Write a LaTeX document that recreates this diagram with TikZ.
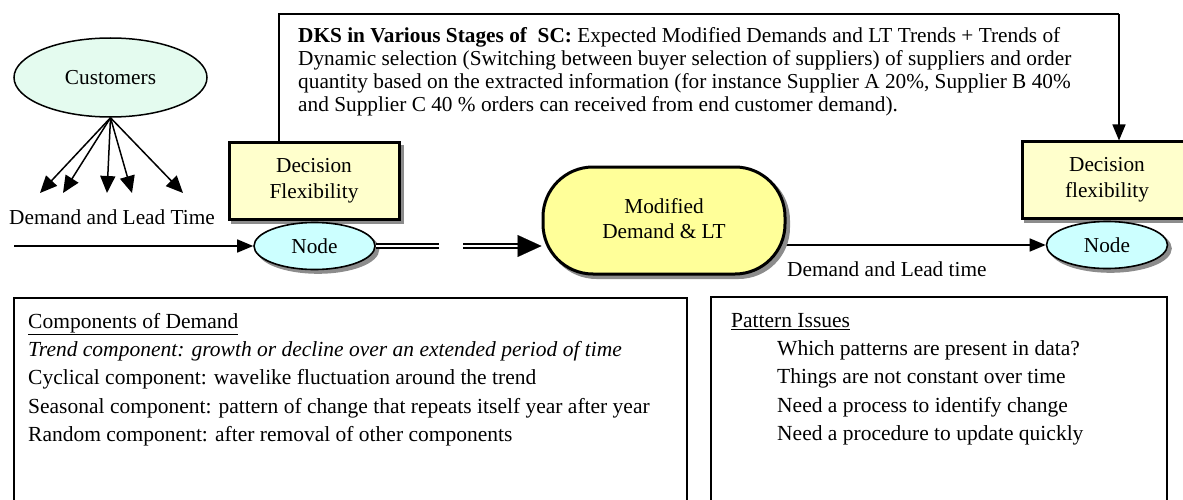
\documentclass[tikz,border=0pt]{standalone}
\usepackage{fontspec}
\setmainfont{Liberation Serif}
\usetikzlibrary{arrows.meta,shapes.geometric,calc}
\pgfdeclarelayer{bg}
\pgfsetlayers{bg,main}
\definecolor{custfill}{HTML}{E4FBEF}
\definecolor{nodefill}{HTML}{CCFFFF}
\definecolor{decfill}{HTML}{FFFFCC}
\definecolor{modfill}{HTML}{FFFF99}
\tikzset{
  txt/.style={font=\fontsize{21.3}{23}\selectfont, inner sep=0pt},
  shade3/.style={preaction={fill=black!45, draw=black!45, transform canvas={xshift=3.5pt,yshift=-3.5pt}}},
  nodeell/.style={ellipse, draw, line width=1.6pt, fill=nodefill, minimum width=121pt,
    minimum height=47pt, inner sep=0pt, font=\fontsize{21.3}{23}\selectfont, shade3},
  decbox/.style={rectangle, draw, line width=3pt, fill=decfill, minimum width=170pt,
    minimum height=76pt, align=center, font=\fontsize{21.3}{26}\selectfont, shade3},
  conn/.style={line width=1.5pt, -{Triangle[length=16pt,width=13pt]}},
  fan/.style={line width=1.5pt, -{Triangle[length=17pt,width=15pt]}},
  dbl/.style={double, line width=1.4pt, double distance=2.8pt},
  infobox/.style={draw, line width=1.7pt},
}
\begin{document}
\begin{tikzpicture}[x=1pt,y=-1pt]
\useasboundingbox (0,0) rectangle (1183,500);

% customers and their demand arrows
\node[ellipse, draw, line width=1.5pt, fill=custfill, minimum width=193pt, minimum height=79pt,
  inner sep=0pt, font=\fontsize{21.3}{23}\selectfont] (cust) at (110.5,77.5) {Customers};
\coordinate (f1) at (40,193);
\coordinate (f2) at (63,193);
\coordinate (f3) at (107,193);
\coordinate (f4) at (132,193);
\coordinate (f5) at (183,193);
\foreach \t in {f1,f2,f3,f4,f5} \draw[fan] (cust.south) -- (\t);
\node[txt] (dlt) at (112,217) {Demand and Lead Time};

% first stage
\node[decbox] (dec1) at (314,181) {Decision\\Flexibility};
\node[nodeell] (n1) at (314.5,246) {Node};
\coordinate (inL) at (14,246);
\draw[conn] (inL) -- (n1.west);

% modified demand stage
\node[rectangle, draw, line width=3pt, fill=modfill, rounded corners=50pt,
  minimum width=242pt, minimum height=107pt,
  font=\fontsize{21.3}{25}\selectfont, shade3] (mod) at (664,220.5)
  {\raisebox{4pt}{\begin{tabular}{@{}c@{}}Modified\\Demand \& LT\end{tabular}}};
\coordinate (gapL) at (439,246);
\coordinate (gapR) at (463,246);
\coordinate (tipS) at (519,246);
\draw[dbl] (n1.east) -- (gapL);
\draw[dbl] (gapR) -- (tipS);
\draw[line width=0.1pt, -{Triangle[length=24pt,width=22pt]}] ($(tipS)+(-0.5,0)$) -- (mod.west |- tipS);

% second stage
\node[decbox] (dec2) at (1107,180) {Decision\\flexibility};
\node[nodeell] (n2) at (1107,245) {Node};
\begin{pgfonlayer}{bg}
  \draw[conn] (mod.center |- n2.west) -- (n2.west);
\end{pgfonlayer}
\node[txt, anchor=west] (dlt2) at (787,269) {Demand and Lead time};

% knowledge sharing path across the stages
\coordinate (dksL) at (279,14);
\coordinate (dksR) at (1119,14);
\draw[line width=1.5pt] (dec1.north -| dksL) -- (dksL) -- (dksR);
\draw[conn] (dksR) -- (dec2.north -| dksR);
\node[txt, anchor=north west, align=left] (dks) at (298,27)
  {\textbf{DKS in Various Stages of~ SC:} Expected Modified Demands and LT Trends + Trends of\\
   Dynamic selection (Switching between buyer selection of suppliers) of suppliers and order\\
   quantity based on the extracted information (for instance Supplier A 20\%, Supplier B 40\%\\
   and Supplier C 40 \% orders can received from end customer demand).};

% demand components
\draw[infobox] (14,520) -- (14,298) -- (687,298) -- (687,520);
\node[anchor=north west, inner sep=0pt, align=left, font=\fontsize{21.5}{28.3}\selectfont] (comp) at (28,313)
  {\underline{Components of Demand}\\
   \textit{Trend component: growth or decline over an extended period of time}\\
   Cyclical component: wavelike fluctuation around the trend\\
   Seasonal component: pattern of change that repeats itself year after year\\
   Random component: after removal of other components};

% pattern issues
\draw[infobox] (711,520) -- (711,297) -- (1167,297) -- (1167,520);
\node[anchor=north west, inner sep=0pt, align=left, font=\fontsize{21.5}{28.3}\selectfont] (patt) at (731,313)
  {\underline{Pattern Issues}\\
   \hspace*{46pt}Which patterns are present in data?\\
   \hspace*{46pt}Things are not constant over time\\
   \hspace*{46pt}Need a process to identify change\\
   \hspace*{46pt}Need a procedure to update quickly};
\end{tikzpicture}
\end{document}
